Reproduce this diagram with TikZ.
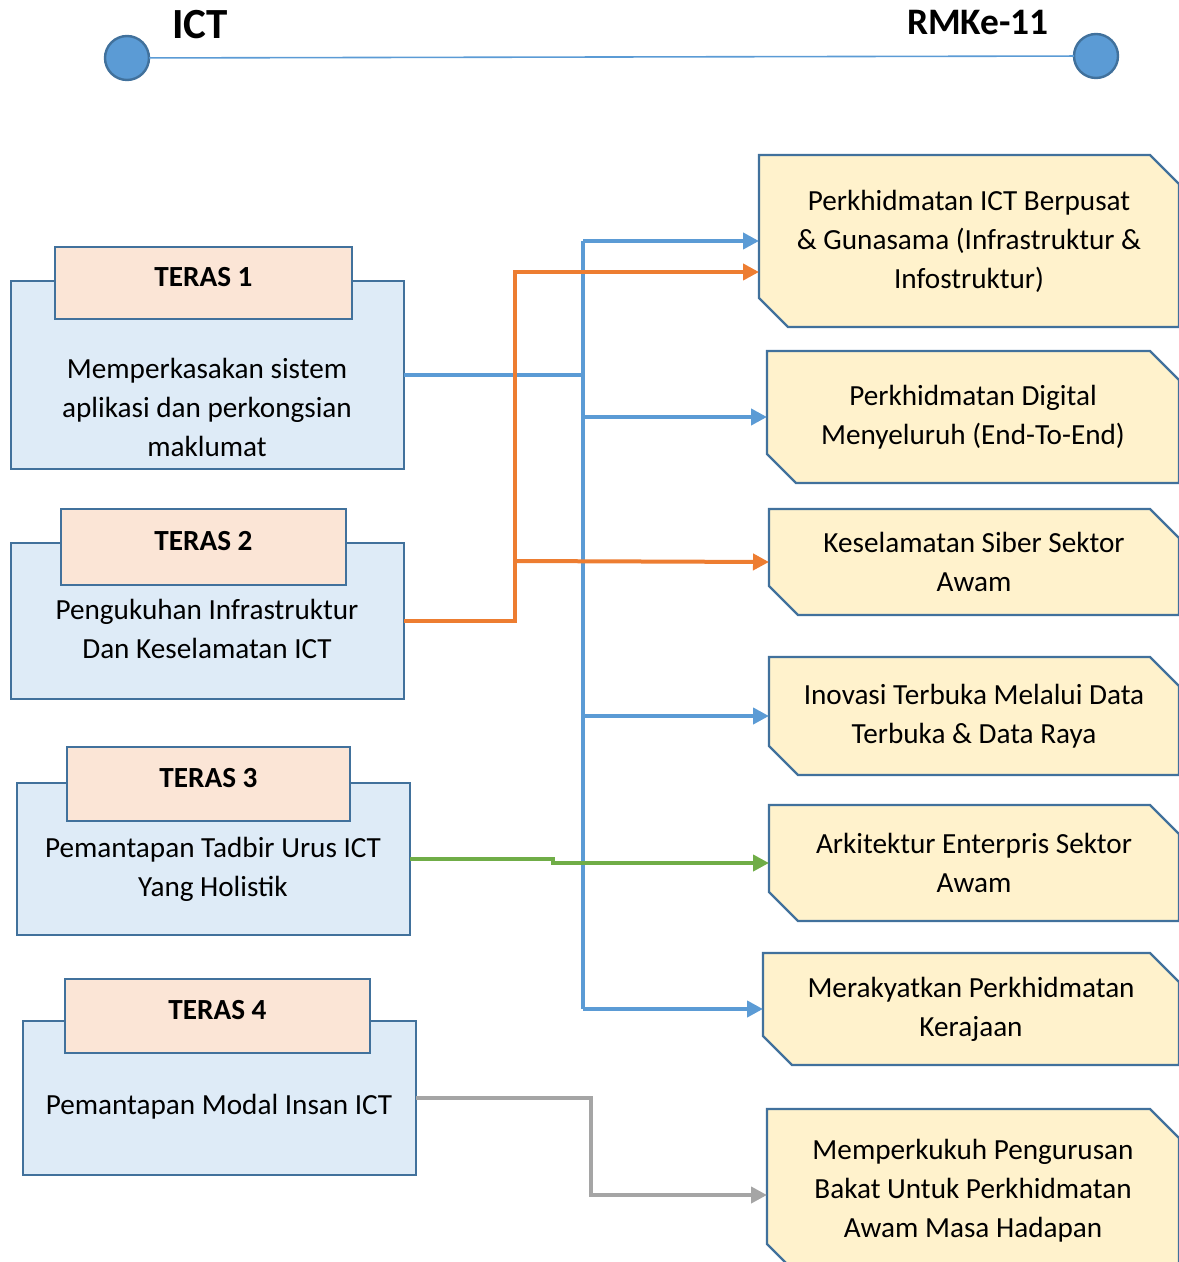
\documentclass[tikz,border=0pt]{standalone}
\usepackage{fontspec}
\setmainfont{Carlito}
\usepackage{tikz}
\usetikzlibrary{arrows.meta}
\usetikzlibrary{calc}
\pgfdeclarelayer{bg}
\pgfsetlayers{bg,main}
\definecolor{lnblue}{HTML}{5B9BD5}
\definecolor{bdblue}{HTML}{41719C}
\definecolor{boxblue}{HTML}{DEEBF7}
\definecolor{tabpeach}{HTML}{FBE5D6}
\definecolor{boxyel}{HTML}{FFF2CC}
\definecolor{lnorange}{HTML}{ED7D31}
\definecolor{lngreen}{HTML}{70AD47}
\definecolor{lngray}{HTML}{A5A5A5}

\begin{document}
\begin{tikzpicture}
    [x=0.5pt,y=-0.5pt,line cap=butt,line join=miter,
     every node/.style={inner sep=0pt,outer sep=0pt},
     txt/.style={align=center,font=\fontsize{14.6}{19.5}\selectfont},
     tbox/.style={draw=bdblue,fill=boxblue,line width=1.2pt},
     thead/.style={draw=bdblue,fill=tabpeach,line width=1.2pt,text depth=6pt,font=\fontsize{14.6}{17}\selectfont\bfseries},
     rbox/.style={draw=bdblue,fill=boxyel,line width=1.2pt,line join=miter},
     dot/.style={circle,draw=bdblue,fill=lnblue,line width=1.2pt,minimum size=22pt},
     link/.style={line width=2pt,-{Triangle[length=8pt,width=8pt]}},
     bline/.style={line width=2pt,color=lnblue}]
\useasboundingbox (0,0) rectangle (1178,1262);

%top line ICT -- RMKe-11
 \node[dot] (ict) at (127,58) {};
 \node[dot] (rmk) at (1096,56) {};
 \draw[lnblue,line width=0.8pt] (ict) -- (rmk);
 \node[font=\fontsize{21.5}{24}\selectfont\bfseries] (ictl) at (200,25) {ICT};
 \node[font=\fontsize{18.7}{22}\selectfont\bfseries] (rmkl) at (978,22) {RMKe-11};

%left boxes (teras)
 \node[tbox,minimum width=196.5pt,minimum height=94pt] (t1) at (207.5,375) {};
 \node[thead,minimum width=148.5pt,minimum height=36pt] (t1h) at (203.5,283) {TERAS 1};
 \node[txt] (t1b) at (207,407) {Memperkasakan sistem\\aplikasi dan perkongsian\\maklumat};

 \node[tbox,minimum width=196.5pt,minimum height=78pt] (t2) at (207.5,621) {};
 \node[thead,minimum width=142.5pt,minimum height=38pt] (t2h) at (203.5,547) {TERAS 2};
 \node[txt] (t2b) at (207,629) {Pengukuhan Infrastruktur\\Dan Keselamatan ICT};

 \node[tbox,minimum width=196.5pt,minimum height=76pt] (t3) at (213.5,859) {};
 \node[thead,minimum width=141.5pt,minimum height=37pt] (t3h) at (208.5,784) {TERAS 3};
 \node[txt] (t3b) at (213,869) {Pemantapan Tadbir Urus ICT\\Yang Holistik};

 \node[tbox,minimum width=196.5pt,minimum height=77pt] (t4) at (219.5,1098) {};
 \node[thead,minimum width=152.5pt,minimum height=37pt] (t4h) at (217.5,1016) {TERAS 4};
 \node[txt] (t4b) at (219,1107) {Pemantapan Modal Insan ICT};

%right boxes (snipped corners drawn on bg layer)
 \node[txt,minimum width=210pt,minimum height=86pt] (r1) at (969,241) {Perkhidmatan ICT Berpusat\\\& Gunasama (Infrastruktur \&\\Infostruktur)};
 \node[txt,minimum width=206pt,minimum height=66pt] (r2) at (973,417) {Perkhidmatan Digital\\Menyeluruh (End-To-End)};
 \node[txt,minimum width=205pt,minimum height=53pt] (r3) at (974,562) {Keselamatan Siber Sektor\\Awam};
 \node[txt,minimum width=205pt,minimum height=59pt] (r4) at (974,716) {Inovasi Terbuka Melalui Data\\Terbuka \& Data Raya};
 \node[txt,minimum width=205pt,minimum height=58pt] (r5) at (974,863) {Arkitektur Enterpris Sektor\\Awam};
 \node[txt,minimum width=208pt,minimum height=56pt] (r6) at (971,1009) {Merakyatkan Perkhidmatan\\Kerajaan};
 \node[txt,minimum width=206pt,minimum height=82pt] (r7) at (973,1191) {Memperkukuh Pengurusan\\Bakat Untuk Perkhidmatan\\Awam Masa Hadapan};

 \begin{pgfonlayer}{bg}
 \foreach \n in {r1,r2,r3,r4,r5,r6,r7}
   \draw[rbox] (\n.north west) -- ($(\n.north east)+(-29,0)$) -- ($(\n.north east)+(0,29)$)
      -- (\n.south east) -- ($(\n.south west)+(29,0)$) -- ($(\n.south west)+(0,-29)$) -- cycle;
 \end{pgfonlayer}

%connectors
 \coordinate (bt) at (583,241);
 \coordinate (bb) at (583,1009);
 \draw[bline] (t1.east) -- (bt |- t1.east);
 \draw[bline] (bt) -- (bb);
 \draw[bline,link] (bt) -- (r1.west);
 \draw[bline,link] (bt |- r2.west) -- (r2.west);
 \draw[bline,link] (bt |- r4.west) -- (r4.west);
 \draw[bline,link] (bb) -- (r6.west);

 \coordinate (oj) at (515,272);
 \coordinate (oj2) at (515,561);
 \draw[lnorange,link] (t2.east) -| (oj) -- (oj -| r1.west);
 \draw[lnorange,link] (oj2) -- (r3.west);

 \draw[lngreen,link] (t3.east) -- ++(143,0) |- (r5.west);

 \coordinate (gj) at (591,1195);
 \draw[lngray,link] (t4.east) -| (gj) -- (gj -| r7.west);

 \end{tikzpicture}
\end{document}
